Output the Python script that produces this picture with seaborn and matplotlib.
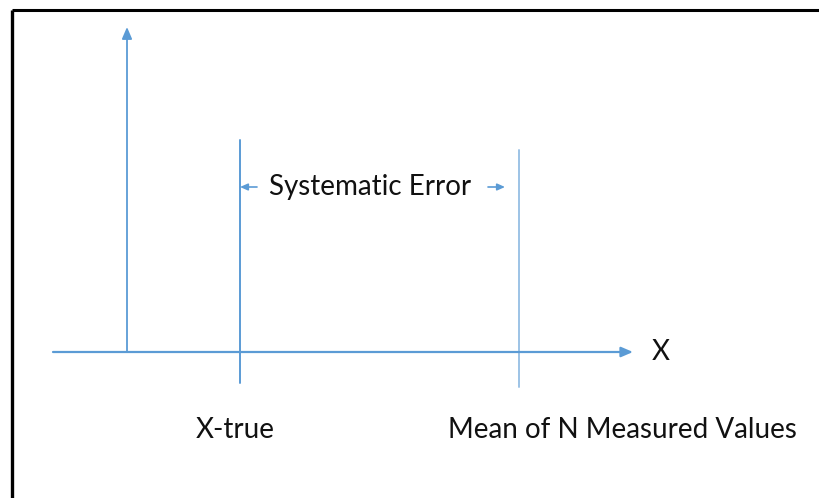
import matplotlib
matplotlib.use("Agg")
import matplotlib.pyplot as plt
import seaborn as sns
import pandas as pd

sns.set_style("white")
plt.rcParams['font.family'] = ['Lato', 'DejaVu Sans']

# diagram geometry (pixel space of the original picture)
axis_origin = [127, 352]
x_axis_span = [53, 633]
y_axis_top = 27
marker_names = ["X-true", "Mean of N Measured Values"]
marker_x = [240, 519]
marker_top = [140, 150]
marker_bottom = [383, 387]
marker_colors = ["#5b9bd5", "#9dc3e6"]
label_x = [235, 622]
label_y = 430
error_text = "Systematic Error"
error_arrow_left = [257, 240]
error_arrow_right = [488, 505]
error_y = 187

fig = plt.figure(figsize=(8.19, 4.98), dpi=100)
ax = fig.add_axes([0, 0, 1, 1])
ax.set_xlim(0, 819)
ax.set_ylim(498, 0)
ax.axis("off")

blue = "#5b9bd5"

# vertical marker lines
lines = pd.DataFrame({
    "x": [v for v in marker_x for _ in range(2)],
    "y": [y for t, b in zip(marker_top, marker_bottom) for y in (t, b)],
    "name": [n for n in marker_names for _ in range(2)],
})
sns.lineplot(data=lines, x="x", y="y", hue="name", units="name", estimator=None,
             palette=dict(zip(marker_names, marker_colors)), sort=False,
             linewidth=1.4, legend=False, ax=ax)

# axes arrows
arrow = dict(arrowstyle="-|>,head_length=0.7,head_width=0.3", color=blue, lw=1.6,
             shrinkA=0, shrinkB=0)
ax.annotate("", xy=(x_axis_span[1], axis_origin[1]), xytext=(x_axis_span[0], axis_origin[1]),
            arrowprops=arrow)
ax.annotate("", xy=(axis_origin[0], y_axis_top), xytext=(axis_origin[0], axis_origin[1]),
            arrowprops=dict(arrow, lw=1.3))
ax.text(661, axis_origin[1], "X", fontsize=20, ha="center", va="center", color="#111111")

# systematic error arrows
small = dict(arrowstyle="-|>,head_length=0.45,head_width=0.2", color=blue, lw=1.2,
             shrinkA=0, shrinkB=0)
ax.annotate("", xy=(error_arrow_left[1], error_y), xytext=(error_arrow_left[0], error_y),
            arrowprops=small)
ax.annotate("", xy=(error_arrow_right[1], error_y), xytext=(error_arrow_right[0], error_y),
            arrowprops=small)
ax.text(370, error_y, error_text, fontsize=20, ha="center", va="center", color="#111111")

for name, lx in zip(marker_names, label_x):
    ax.text(lx, label_y, name, fontsize=20, ha="center", va="center", color="#111111")

# frame on top and left
ax.plot([11.5, 819], [9.5, 9.5], color="black", lw=2.2, solid_capstyle="butt")
ax.plot([11.5, 11.5], [9.5, 498], color="black", lw=2.4, solid_capstyle="butt")

fig.savefig("out.png", dpi=100)
